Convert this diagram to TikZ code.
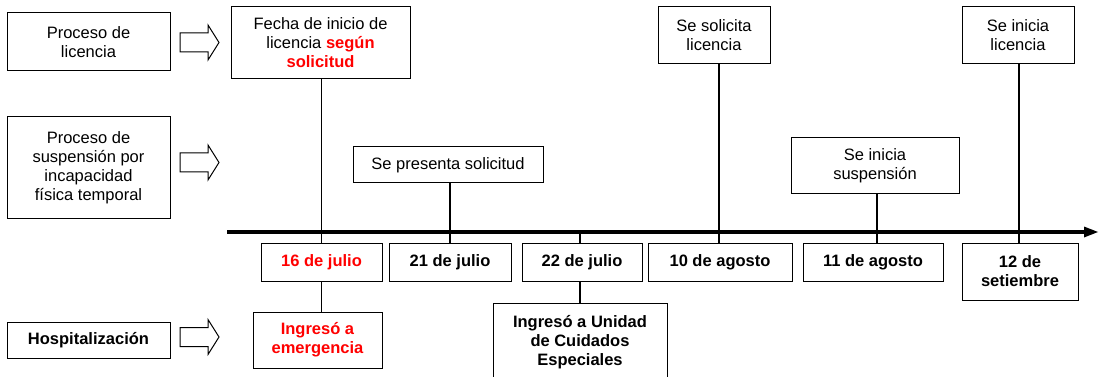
\documentclass[tikz,border=0pt]{standalone}
\usepackage{fontspec}
\setmainfont{Liberation Sans}
\usetikzlibrary{calc}
\definecolor{hl}{RGB}{255,0,0}
\begin{document}
\begin{tikzpicture}[x=1pt,y=-1pt,
  box/.style={draw=black,line width=1pt,inner sep=0pt,align=center,
    font=\fontsize{16.5}{19}\selectfont},
  bbox/.style={box,font=\fontsize{16.5}{19}\selectfont\bfseries},
  conn/.style={line width=1.1pt},
  blockarrow/.style={draw=black,line width=1pt,fill=white}]
\useasboundingbox (0,0) rectangle (1101,377);
\clip (0,0) rectangle (1101,377);
% left labels
\node[box,minimum width=163,minimum height=58] (lic) at (88.5,42) {Proceso de\\licencia};
\node[box,minimum width=163,minimum height=101] (sus) at (88.5,167.5) {Proceso de\\suspensión por\\incapacidad\\física temporal};
\node[bbox,minimum width=163,minimum height=36] (hos) at (88.5,340) {Hospitalización};
% block arrows
\foreach \cy in {42.5,162.5,337}{
  \draw[blockarrow] (180,\cy-9.5) -- (208,\cy-9.5) -- (208,\cy-17.5) -- (219,\cy)
    -- (208,\cy+17.5) -- (208,\cy+9.5) -- (180,\cy+9.5) -- cycle;
}
% upper event boxes
\node[box,minimum width=179,minimum height=72] (fecha) at (320.5,43) {Fecha de inicio de\\licencia {\bfseries\color{hl}según}\\{\bfseries\color{hl}solicitud}};
\node[box,minimum width=190,minimum height=36] (pres) at (448,165) {Se presenta solicitud};
\node[box,minimum width=112,minimum height=57] (solic) at (714,35.5) {Se solicita\\licencia};
\node[box,minimum width=168,minimum height=56] (isus) at (875,166) {Se inicia\\suspensión};
\node[box,minimum width=112,minimum height=57] (ilic) at (1018,35.5) {Se inicia\\licencia};
% date boxes
\node[bbox,minimum width=121,minimum height=38,text=hl] (d16) at (321.5,262) {16 de julio};
\node[bbox,minimum width=122,minimum height=38] (d21) at (450,262) {21 de julio};
\node[bbox,minimum width=120,minimum height=38] (d22) at (582,262) {22 de julio};
\node[bbox,minimum width=144,minimum height=38] (d10) at (720,262) {10 de agosto};
\node[bbox,minimum width=140,minimum height=38] (d11) at (873,262) {11 de agosto};
\node[bbox,minimum width=116,minimum height=57] (d12) at (1020,271.5) {12 de\\setiembre};
% lower boxes
\node[bbox,minimum width=129,minimum height=56,text=hl] (emer) at (317.5,340) {Ingresó a\\emergencia};
\node[bbox,minimum width=174,minimum height=78] (uce) at (580,342) {Ingresó a Unidad\\de Cuidados\\Especiales};
% axis
\coordinate (axs) at (227,232);
\coordinate (axe) at (1098,232);
\draw[line width=4pt] (axs) -- ($(axe)+(-12,0)$);
\fill (axe) -- ++(-14,-5.5) -- ++(0,11) -- cycle;
% connectors
\draw[conn] (fecha.south -| d16.north) -- (d16.north);
\draw[conn] (d16.south) -- (d16.south |- emer.north);
\draw[conn] (pres.south -| d21.north) -- (d21.north);
\draw[conn] (axs -| uce.north) -- (d22.north -| uce.north);
\draw[conn] (d22.south -| uce.north) -- (uce.north);
\draw[conn] (solic.south -| 719,0) -- (d10.north -| 719,0);
\draw[conn] (isus.south -| 877,0) -- (d11.north -| 877,0);
\draw[conn] (ilic.south -| 1019,0) -- (d12.north -| 1019,0);
\end{tikzpicture}
\end{document}
